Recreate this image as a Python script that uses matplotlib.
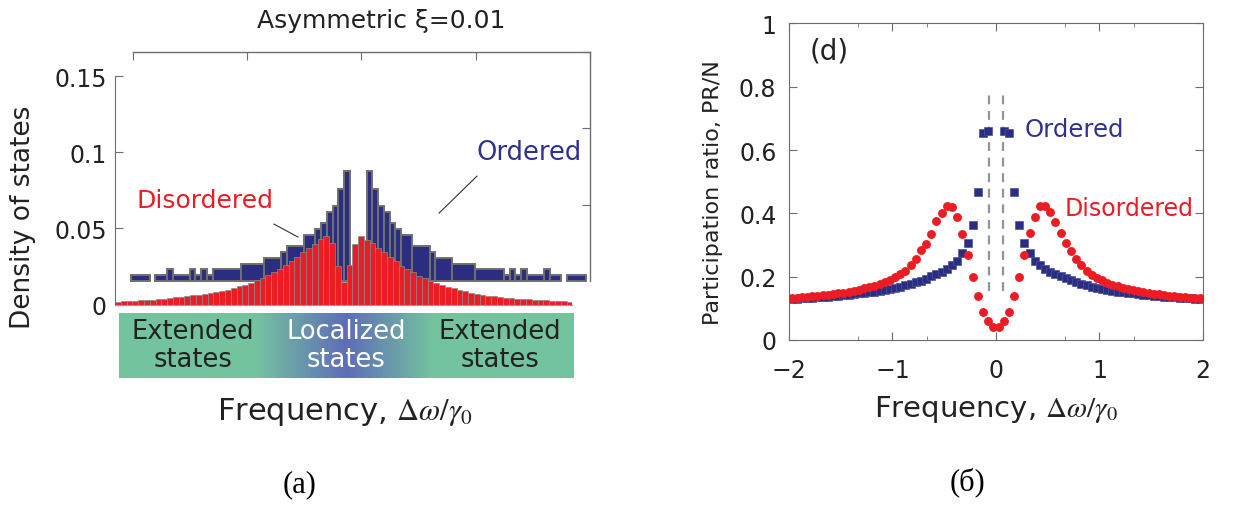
import numpy as np
import matplotlib
matplotlib.use("Agg")
import matplotlib.pyplot as plt
from matplotlib.colors import LinearSegmentedColormap

plt.rcParams['font.family'] = ['DejaVu Sans']
plt.rcParams['mathtext.fontset'] = 'stix'

# ================= data =================
# (a) density of states, disordered: 79 bins of width 0.05 centred on 0
dos_centers = np.round(np.arange(-39, 40) * 0.05, 3)
dos_disordered = [
    0.0016, 0.0021, 0.0023, 0.0025, 0.0028, 0.0030, 0.0032, 0.0034, 0.0038, 0.0043,
    0.0047, 0.0051, 0.0056, 0.0060, 0.0064, 0.0069, 0.0076, 0.0082, 0.0089, 0.0097,
    0.0109, 0.0120, 0.0128, 0.0141, 0.0161, 0.0176, 0.0194, 0.0212, 0.0236, 0.0260,
    0.0286, 0.0313, 0.0343, 0.0374, 0.0398, 0.0431, 0.0449, 0.0405, 0.0255, 0.0150,
    0.0260, 0.0398, 0.0449, 0.0426, 0.0405, 0.0370, 0.0343, 0.0310, 0.0288, 0.0255,
    0.0234, 0.0212, 0.0190, 0.0172, 0.0157, 0.0141, 0.0128, 0.0117, 0.0107, 0.0095,
    0.0087, 0.0078, 0.0071, 0.0064, 0.0058, 0.0054, 0.0049, 0.0045, 0.0041, 0.0038,
    0.0036, 0.0034, 0.0032, 0.0030, 0.0028, 0.0025, 0.0023, 0.0021, 0.0016,
]

# (a) density of states, ordered: merged bins, given as edges + heights
ord_edges = [
    -1.99, -1.825, -1.775, -1.675, -1.625, -1.475, -1.425, -1.375, -1.325, -1.275,
    -1.025, -0.825, -0.675, -0.625, -0.475, -0.375, -0.325, -0.275, -0.225, -0.175,
    -0.125, -0.075, 0.075, 0.125, 0.175, 0.225, 0.275, 0.325, 0.375, 0.475,
    0.625, 0.675, 0.825, 1.025, 1.275, 1.325, 1.375, 1.425, 1.475, 1.625,
    1.675, 1.775, 1.825, 1.99,
]
ord_heights = [
    0.0038, 0.0, 0.0038, 0.0076, 0.0038, 0.0076, 0.0038, 0.0076, 0.0038, 0.0076,
    0.0113, 0.0151, 0.0189, 0.0227, 0.0302, 0.0340, 0.0378, 0.0454, 0.0491, 0.0605,
    0.0718, 0.0, 0.0718, 0.0605, 0.0491, 0.0454, 0.0378, 0.0340, 0.0302, 0.0227,
    0.0189, 0.0151, 0.0113, 0.0076, 0.0038, 0.0076, 0.0038, 0.0076, 0.0038, 0.0076,
    0.0038, 0.0, 0.0038,
]

# (б) participation ratio
pr_freq = np.round(np.arange(-39.5, 40) * 0.05, 3)
pr_ordered = [
    0.130, 0.131, 0.132, 0.133, 0.134, 0.135, 0.136, 0.137, 0.139, 0.140,
    0.142, 0.143, 0.145, 0.147, 0.149, 0.151, 0.153, 0.156, 0.159, 0.162,
    0.165, 0.169, 0.173, 0.177, 0.182, 0.187, 0.194, 0.201, 0.208, 0.216,
    0.224, 0.236, 0.250, 0.274, 0.306, 0.364, 0.467, 0.653, 0.660, np.nan,
    np.nan, 0.660, 0.653, 0.467, 0.364, 0.306, 0.275, 0.250, 0.237, 0.224,
    0.216, 0.208, 0.201, 0.195, 0.188, 0.182, 0.177, 0.173, 0.169, 0.165,
    0.162, 0.159, 0.156, 0.153, 0.151, 0.149, 0.147, 0.145, 0.143, 0.142,
    0.140, 0.139, 0.137, 0.136, 0.135, 0.134, 0.133, 0.132, 0.131, 0.130,
]
pr_disordered = [
    0.132, 0.134, 0.135, 0.136, 0.138, 0.139, 0.141, 0.143, 0.145, 0.148,
    0.150, 0.153, 0.156, 0.159, 0.163, 0.167, 0.172, 0.177, 0.183, 0.190,
    0.198, 0.207, 0.218, 0.236, 0.256, 0.283, 0.303, 0.335, 0.375, 0.402,
    0.424, 0.419, 0.390, 0.336, 0.270, 0.199, 0.139, 0.090, 0.060, 0.040,
    0.040, 0.060, 0.090, 0.139, 0.199, 0.270, 0.338, 0.390, 0.424, 0.424,
    0.405, 0.372, 0.338, 0.308, 0.280, 0.256, 0.236, 0.218, 0.205, 0.195,
    0.188, 0.181, 0.175, 0.170, 0.165, 0.161, 0.157, 0.154, 0.151, 0.148,
    0.146, 0.144, 0.142, 0.140, 0.138, 0.137, 0.135, 0.134, 0.133, 0.132,
]
dash_freq = [-0.07, 0.07]

RED = '#ec1c24'
NAVY = '#2b2d80'
BLUE_TXT = '#2e3192'
GREY = '#6d6d6d'
INK = '#222222'

fig = plt.figure(figsize=(12.39, 5.06), dpi=100)

# ---------- (a) ordered histogram (behind) ----------
ax_o = fig.add_axes([0.1073, 0.4427, 0.3688, 0.4526])
edges = np.array(ord_edges)
h = np.array(ord_heights)
m = h > 0
ax_o.bar(edges[:-1][m], h[m], width=np.diff(edges)[m], align='edge',
         color=NAVY, edgecolor='#707070', linewidth=1.4, clip_on=False)
ax_o.set_xlim(-1.972, 2.028)
ax_o.set_ylim(0, 0.15)
for s in ['left', 'bottom']:
    ax_o.spines[s].set_visible(False)
for s in ['top', 'right']:
    ax_o.spines[s].set_color(GREY)
    ax_o.spines[s].set_linewidth(1.0)
ax_o.xaxis.tick_top()
ax_o.yaxis.tick_right()
ax_o.set_xticks(np.linspace(-1.972, 2.028, 5))
ax_o.set_yticks([0.05, 0.1, 0.15])
ax_o.tick_params(direction='in', length=6, color=GREY, labeltop=False,
                 labelright=False, labelbottom=False, labelleft=False)
ax_o.patch.set_visible(False)

# ---------- (a) disordered histogram (front) ----------
ax_d = fig.add_axes([0.0928, 0.3962, 0.3691, 0.4516])
ax_d.bar(dos_centers, dos_disordered, width=0.05, color=RED,
         edgecolor='#8a8a8a', linewidth=0.5)
ax_d.set_xlim(-1.975, 1.975)
ax_d.set_ylim(0, 0.15)
ax_d.patch.set_visible(False)
for s in ['top', 'right']:
    ax_d.spines[s].set_visible(False)
ax_d.spines['left'].set_color(GREY)
ax_d.spines['bottom'].set_color('#9a9a9a')
ax_d.set_xticks([])
ax_d.set_yticks([0, 0.05, 0.1, 0.15])
ax_d.set_yticklabels(['0', '0.05', '0.1', '0.15'])
ax_d.tick_params(axis='y', direction='in', length=6, color=GREY,
                 labelsize=17, pad=6, labelcolor=INK)
ax_d.set_ylabel('Density of states', fontsize=19, color=INK)
ax_d.yaxis.set_label_coords(-0.172, 0.387)

ax_d.text(-1.198, 0.0686, 'Disordered', color=RED, fontsize=18,
          ha='center', va='center')
ax_d.plot([-0.602, -0.394], [0.0528, 0.0443], color='#333333', lw=0.8)
ax_d.text(1.601, 0.1001, 'Ordered', color=BLUE_TXT, fontsize=18.5,
          ha='center', va='center')
ax_d.plot([1.152, 0.824], [0.0843, 0.060], color='#333333', lw=0.8)

fig.text(0.308, 0.958, 'Asymmetric ξ=0.01', fontsize=18, ha='center',
         va='center', color=INK)

# gradient band
ax_b = fig.add_axes([0.0960, 0.251, 0.3672, 0.1285])
band_cmap = LinearSegmentedColormap.from_list(
    'band', [(0.0, '#74c39f'), (0.30, '#74c39f'), (0.50, '#5e6db8'),
             (0.69, '#74c39f'), (1.0, '#74c39f')])
ax_b.imshow(np.linspace(0, 1, 600)[None, :], aspect='auto', cmap=band_cmap,
            extent=[0, 1, 0, 1])
ax_b.set_xlim(0, 1)
ax_b.set_ylim(0, 1)
ax_b.axis('off')
for xb, txt, col in [(0.163, 'Extended\nstates', INK),
                     (0.499, 'Localized\nstates', 'white'),
                     (0.837, 'Extended\nstates', INK)]:
    ax_b.text(xb, 0.5, txt, color=col, fontsize=18.5, ha='center',
              va='center', linespacing=1.1)

fig.text(0.2785, 0.186, r'Frequency, $\Delta\omega/\gamma_0$', fontsize=22,
         ha='center', va='center', color=INK)
fig.text(0.242, 0.042, '(a)', fontsize=22, ha='center', va='center',
         family='Liberation Serif')

# ---------- (б) participation ratio ----------
ax_p = fig.add_axes([0.6368, 0.3261, 0.3341, 0.6255])
ax_p.vlines(dash_freq, 0.155, 0.78, colors='#8e969c', linestyles=(0, (4, 3)),
            lw=1.6, zorder=1)
ax_p.plot(pr_freq, pr_ordered, 's', color=NAVY, markersize=5.2,
          markeredgecolor='#4a52a0', markeredgewidth=0.5, zorder=2)
ax_p.plot(pr_freq, pr_disordered, 'o', color=RED, markersize=6.4,
          markeredgewidth=0, zorder=3)
ax_p.set_xlim(-2, 2)
ax_p.set_ylim(0, 1)
ax_p.set_xticks([-2, -1, 0, 1, 2])
ax_p.set_xticklabels(['\u22122', '\u22121', '0', '1', '2'])
ax_p.set_yticks([0, 0.2, 0.4, 0.6, 0.8, 1])
ax_p.set_yticklabels(['0', '0.2', '0.4', '0.6', '0.8', '1'])
ax_p.set_xticks([-4 / 3, -2 / 3, 2 / 3, 4 / 3], minor=True)
ax_p.tick_params(which='both', direction='in', top=True, right=True,
                 color=GREY, labelsize=17, labelcolor=INK)
ax_p.tick_params(which='major', length=6)
ax_p.tick_params(axis='x', which='major', pad=13)
ax_p.tick_params(axis='y', which='major', pad=9)
ax_p.tick_params(which='minor', length=3)
for s in ax_p.spines.values():
    s.set_color(GREY)
ax_p.set_ylabel('Participation ratio, PR/N', fontsize=16, color=INK)
ax_p.yaxis.set_label_coords(-0.16, 0.468)
ax_p.set_xlabel(r'Frequency, $\Delta\omega/\gamma_0$', fontsize=21,
                color=INK, labelpad=8)
ax_p.text(-1.8, 0.915, '(d)', fontsize=20, ha='left', va='center', color=INK)
ax_p.text(0.28, 0.667, 'Ordered', fontsize=17.5, color=BLUE_TXT,
          ha='left', va='center')
ax_p.text(0.667, 0.417, 'Disordered', fontsize=17, color=RED,
          ha='left', va='center')

fig.text(0.781, 0.047, '(б)', fontsize=22, ha='center', va='center',
         family='Liberation Serif')

fig.savefig('out.png', dpi=100)
